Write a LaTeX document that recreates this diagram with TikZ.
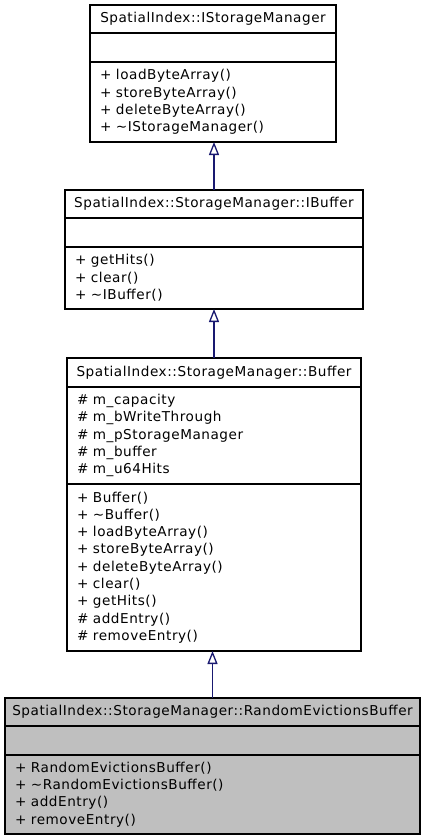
\documentclass[tikz,border=0pt]{standalone}
\usepackage{fontspec}
\setmainfont[LetterSpace=4.0]{DejaVu Sans}
\usepackage{tikz}
\usetikzlibrary{positioning,arrows.meta}
\definecolor{edgeblue}{RGB}{25,25,112}
\definecolor{classgray}{RGB}{191,191,191}

\tikzset{
  part/.style={draw=black, line width=1.3pt, inner sep=0pt, outer sep=0pt, font=\fontsize{13.6}{17.3}\selectfont},
  classtitle/.style={part, minimum width=#1, minimum height=28pt},
  emptypart/.style={part, minimum width=#1, minimum height=29pt},
  members/.style n args={2}{part, text width=#1, inner xsep=10pt, minimum height=#2, align=left},
  inherit/.style={edgeblue, line width=1.3pt, -{Triangle[open, length=13pt, width=10pt]}}
}

\begin{document}
\begin{tikzpicture}[x=1pt,y=-1pt]
\fill[white] (0,0) rectangle (427,840);
\useasboundingbox (0,0) rectangle (427,840);
% SpatialIndex::IStorageManager
\node[classtitle=246pt, anchor=north west] (ismTitle) at (90,5) {SpatialIndex::IStorageManager};
\node[emptypart=246pt, below=0pt of ismTitle] (ismAttr) {};
\node[members={226pt}{80pt}, below=0pt of ismAttr] (ismOps) {+ loadByteArray()\\+ storeByteArray()\\+ deleteByteArray()\\+ \textasciitilde IStorageManager()};
% SpatialIndex::StorageManager::IBuffer
\node[classtitle=298pt, anchor=north west] (ibTitle) at (65,190) {SpatialIndex::StorageManager::IBuffer};
\node[emptypart=298pt, below=0pt of ibTitle] (ibAttr) {};
\node[members={278pt}{62pt}, below=0pt of ibAttr] (ibOps) {+ getHits()\\+ clear()\\+ \textasciitilde IBuffer()};
% SpatialIndex::StorageManager::Buffer
\node[classtitle=294pt, minimum height=29pt, anchor=north west] (bufTitle) at (67,358) {SpatialIndex::StorageManager::Buffer};
\node[members={274pt}{97pt}, below=0pt of bufTitle] (bufAttr) {\# m\_capacity\\\# m\_bWriteThrough\\\# m\_pStorageManager\\\# m\_buffer\\\# m\_u64Hits};
\node[members={274pt}{167pt}, below=0pt of bufAttr] (bufOps) {+ Buffer()\\+ \textasciitilde Buffer()\\+ loadByteArray()\\+ storeByteArray()\\+ deleteByteArray()\\+ clear()\\+ getHits()\\\# addEntry()\\\# removeEntry()};
% SpatialIndex::StorageManager::RandomEvictionsBuffer
\node[classtitle=415pt, fill=classgray, anchor=north west] (rebTitle) at (5,698) {SpatialIndex::StorageManager::RandomEvictionsBuffer};
\node[emptypart=415pt, fill=classgray, below=0pt of rebTitle] (rebAttr) {};
\node[members={395pt}{79pt}, fill=classgray, below=0pt of rebAttr] (rebOps) {+ RandomEvictionsBuffer()\\+ \textasciitilde RandomEvictionsBuffer()\\+ addEntry()\\+ removeEntry()};
% inheritance
\draw[inherit] (ibTitle.north) -- (ibTitle.north |- ismOps.south);
\draw[inherit] (bufTitle.north) -- (bufTitle.north |- ibOps.south);
\draw[inherit] (rebTitle.north) -- (rebTitle.north |- bufOps.south);
\end{tikzpicture}
\end{document}
